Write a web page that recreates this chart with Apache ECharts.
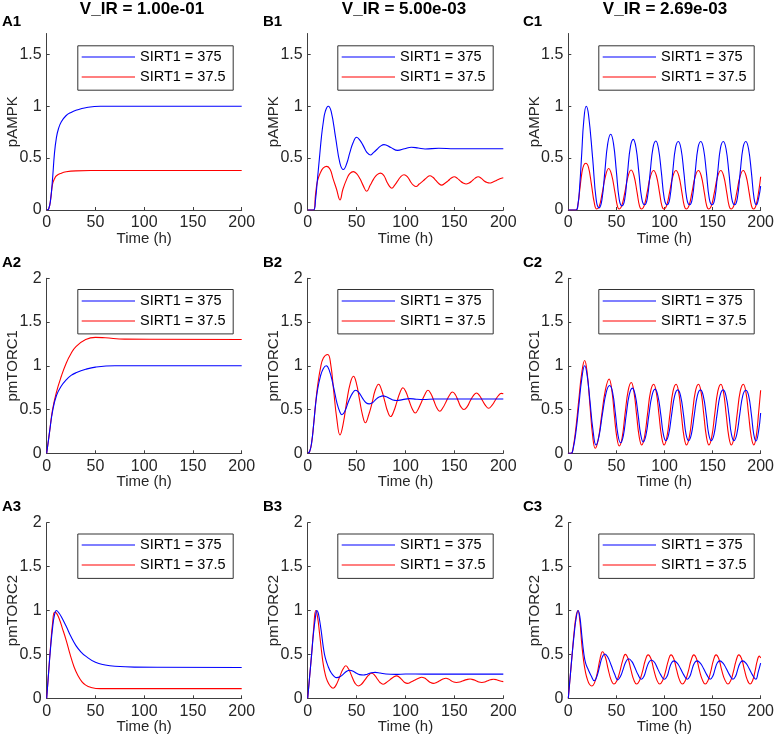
<!DOCTYPE html>
<html>
<head>
<meta charset="utf-8">
<script src="https://cdn.jsdelivr.net/npm/echarts@6/dist/echarts.min.js"></script>
<style>
html,body{margin:0;padding:0;background:#fff;}
#chart{width:777px;height:737px;}
</style>
</head>
<body>
<div id="chart"></div>
<script>
// ---------- data ----------
const columnTitles = ['V_IR = 1.00e-01', 'V_IR = 5.00e-03', 'V_IR = 2.69e-03'];
const panelLabels = [['A1','B1','C1'],['A2','B2','C2'],['A3','B3','C3']];
const rowYNames = ['pAMPK', 'pmTORC1', 'pmTORC2'];
const rowYMax = [1.7, 2, 2];
const seriesNames = ['SIRT1 = 375', 'SIRT1 = 37.5'];
const xTicks = [0, 50, 100, 150, 200];

// A1 pAMPK
const a1Blue = [[0,0],[2,0.01],[4,0.1],[6,0.3],[8,0.55],[10,0.7],[12,0.78],[15,0.85],[20,0.91],[25,0.94],[30,0.96],[40,0.985],[55,1.0],[200,1.0]];
const a1Red = [[0,0],[2,0.01],[4,0.1],[6,0.25],[8,0.3],[10,0.33],[15,0.355],[20,0.368],[30,0.377],[45,0.38],[200,0.38]];
// B1 pAMPK
const b1Blue = [[0,0],[6,0],[8,0.1],[10,0.3],[12,0.5],[14,0.7],[16,0.85],[18,0.95],[21,1.0],[24,0.95],[28.5,0.7],[33,0.45],[36.5,0.39],[40,0.45],[43,0.55],[46.5,0.65],[50,0.70],[53.5,0.67],[57,0.615],[60.5,0.555],[64,0.53],[67.5,0.555],[71,0.585],[74.5,0.615],[78,0.63],[85,0.602],[92,0.574],[99,0.59],[106,0.605],[113,0.597],[120,0.588],[134,0.595],[150,0.59],[200,0.59]];
const b1Red = [[0,0],[6,0],[8,0.15],[10,0.28],[13,0.36],[16,0.405],[19.5,0.42],[23,0.39],[26,0.3],[29.5,0.2],[33,0.097],[36,0.2],[40,0.3],[43,0.35],[46.7,0.37],[50,0.35],[53.5,0.3],[57,0.23],[60.3,0.18],[64,0.24],[67.5,0.3],[71,0.34],[74.6,0.355],[78,0.33],[81,0.27],[83.5,0.23],[86,0.21],[89,0.24],[92,0.28],[95,0.32],[98.5,0.34],[102,0.32],[105,0.275],[108,0.24],[110.8,0.226],[114,0.25],[118,0.28],[121.5,0.31],[125,0.33],[128,0.315],[131,0.285],[134,0.255],[137,0.24],[140,0.255],[143.5,0.28],[146.5,0.305],[150,0.32],[153,0.305],[156,0.28],[159,0.26],[162,0.25],[165,0.26],[168,0.28],[171,0.305],[174.4,0.32],[177.5,0.305],[180.5,0.28],[183.5,0.265],[186,0.26],[189.5,0.27],[193,0.285],[196.5,0.3],[200,0.31]];
// C1 pAMPK
const c1Blue = [[0,0],[8,0],[10,0.05],[12,0.25],[14,0.55],[16,0.85],[18.6,1.0],[21,0.92],[25.3,0.5],[29,0.1],[32,0.02],[35,0.1],[38,0.37],[41,0.64],[44.1,0.73],[47,0.64],[50,0.37],[53,0.1],[55.8,0.04],[58.6,0.1],[61.6,0.36],[64.6,0.61],[67.6,0.68],[70.4,0.6],[73.4,0.36],[76.4,0.11],[79.3,0.05],[82.1,0.11],[85.1,0.36],[88.1,0.6],[91,0.665],[93.8,0.59],[96.8,0.36],[99.8,0.11],[102.7,0.05],[105.5,0.11],[108.5,0.36],[111.5,0.6],[114.4,0.66],[117.2,0.59],[120.2,0.36],[123.2,0.11],[126.1,0.05],[128.9,0.11],[131.9,0.36],[134.9,0.6],[137.8,0.66],[140.6,0.59],[143.6,0.36],[146.6,0.11],[149.5,0.05],[152.3,0.11],[155.3,0.36],[158.3,0.6],[161.2,0.66],[164,0.59],[167,0.36],[170,0.11],[172.9,0.05],[175.7,0.11],[178.7,0.36],[181.7,0.6],[184.6,0.66],[187.4,0.59],[190.4,0.36],[193.2,0.11],[195.6,0.05],[198,0.12],[200,0.23]];
const c1Red = [[0,0],[8,0],[10,0.05],[12,0.2],[14,0.35],[16,0.43],[18.3,0.45],[21,0.41],[24,0.25],[27,0.07],[29.5,0.01],[32,0.03],[35,0.15],[38.5,0.32],[42,0.40],[45,0.34],[48.5,0.17],[51,0.04],[52.8,0.01],[55.5,0.04],[58.8,0.17],[62,0.32],[65.3,0.385],[68.3,0.33],[71.5,0.17],[74,0.04],[76.1,0.01],[78.8,0.04],[82,0.17],[85.3,0.32],[88.6,0.38],[91.6,0.33],[94.8,0.17],[97.3,0.04],[99.4,0.01],[102.1,0.04],[105.3,0.17],[108.6,0.32],[111.9,0.38],[114.9,0.33],[118.1,0.17],[120.6,0.04],[122.7,0.01],[125.4,0.04],[128.6,0.17],[131.9,0.32],[135.2,0.38],[138.2,0.33],[141.4,0.17],[143.9,0.04],[146,0.01],[148.7,0.04],[151.9,0.17],[155.2,0.32],[158.5,0.38],[161.5,0.33],[164.7,0.17],[167.2,0.04],[169.3,0.01],[172,0.04],[175.2,0.17],[178.5,0.32],[181.8,0.38],[184.8,0.33],[188,0.17],[190.5,0.04],[192.6,0.01],[195.3,0.05],[198.3,0.2],[200,0.32]];

// A2 pmTORC1
const a2Blue = [[0,0],[3,0.25],[6,0.48],[10,0.66],[15,0.77],[20,0.84],[25,0.89],[30,0.92],[40,0.96],[50,0.985],[70,1.0],[200,1.0]];
const a2Red = [[0,0],[3,0.25],[6,0.5],[10,0.7],[15,0.88],[20,1.03],[25,1.14],[30,1.22],[40,1.3],[50,1.325],[60,1.32],[80,1.305],[200,1.30]];
// B2 pmTORC1
const b2Blue = [[0,0],[2,0.02],[4,0.12],[6,0.32],[8,0.55],[10,0.72],[13,0.88],[16,0.97],[19,1.0],[22,0.95],[26,0.78],[30,0.57],[33,0.47],[35,0.44],[38,0.48],[42,0.6],[46,0.69],[49,0.72],[52,0.7],[56,0.63],[60,0.575],[63,0.565],[66.5,0.58],[70,0.62],[73.5,0.645],[77,0.656],[80.5,0.645],[84,0.625],[87,0.61],[90.6,0.603],[97,0.613],[104,0.625],[111,0.618],[118,0.615],[130,0.62],[200,0.62]];
const b2Red = [[0,0],[2,0.02],[4,0.12],[6,0.32],[8,0.56],[10,0.76],[13,0.97],[16,1.09],[20.5,1.13],[23.5,1.02],[26.5,0.72],[29.7,0.4],[33,0.21],[36.5,0.35],[40,0.6],[43.5,0.8],[46.8,0.88],[49.8,0.8],[52.9,0.62],[56,0.44],[59,0.35],[62.4,0.44],[65.7,0.57],[69,0.72],[72.5,0.79],[75.6,0.72],[78.7,0.6],[81.7,0.48],[84.8,0.42],[88,0.48],[91.1,0.585],[94.2,0.69],[97.4,0.75],[100.5,0.7],[103.7,0.6],[106.8,0.51],[110,0.46],[113.2,0.51],[116.5,0.59],[119.7,0.67],[123,0.72],[126,0.68],[129,0.6],[132,0.52],[135,0.48],[138.2,0.52],[141.5,0.59],[144.8,0.66],[148,0.70],[151,0.67],[153.8,0.6],[156.7,0.53],[159.7,0.5],[162.9,0.53],[166.2,0.6],[169.4,0.66],[172.6,0.69],[175.7,0.66],[178.8,0.6],[181.9,0.545],[185,0.515],[188.2,0.545],[191.5,0.6],[194.7,0.655],[198,0.685],[200,0.68]];
// C2 pmTORC1
const c2Blue = [[0,0],[3,0],[5,0.05],[8,0.25],[11,0.55],[14,0.85],[17,1.0],[19.5,0.9],[22.5,0.6],[25.5,0.28],[28.8,0.095],[32,0.2],[35.5,0.45],[39.5,0.7],[43,0.775],[46,0.7],[49,0.45],[51.5,0.22],[54.3,0.12],[57.2,0.2],[60.2,0.44],[63.4,0.67],[66.6,0.745],[69.5,0.67],[72.6,0.44],[75.2,0.22],[77.9,0.13],[80.8,0.21],[83.8,0.44],[87,0.66],[90.2,0.733],[93.1,0.66],[96.2,0.44],[98.8,0.22],[101.5,0.145],[104.4,0.22],[107.4,0.44],[110.6,0.66],[113.8,0.725],[116.7,0.66],[119.8,0.44],[122.4,0.22],[125.1,0.145],[128,0.22],[131,0.44],[134.2,0.66],[137.4,0.725],[140.3,0.66],[143.4,0.44],[146,0.22],[148.7,0.145],[151.6,0.22],[154.6,0.44],[157.8,0.66],[161,0.725],[163.9,0.66],[167,0.44],[169.6,0.22],[172.3,0.145],[175.2,0.22],[178.2,0.44],[181.4,0.66],[184.6,0.72],[187.5,0.66],[190.4,0.44],[192.8,0.22],[195.2,0.14],[197.8,0.25],[200,0.46]];
const c2Red = [[0,0],[3,0],[5,0.06],[8,0.3],[11,0.62],[14,0.92],[17,1.06],[19.5,0.93],[22.5,0.55],[25.3,0.2],[28,0.057],[31,0.15],[34.5,0.42],[38.5,0.72],[42.4,0.85],[45.3,0.72],[48,0.42],[50.5,0.18],[53,0.084],[56,0.18],[59,0.45],[62.3,0.72],[65.5,0.81],[68.3,0.7],[71,0.44],[73.7,0.19],[76.4,0.095],[79.3,0.19],[82.4,0.45],[85.6,0.71],[88.8,0.79],[91.6,0.69],[94.3,0.44],[97,0.19],[99.7,0.095],[102.6,0.19],[105.7,0.45],[108.9,0.71],[112.1,0.79],[114.9,0.69],[117.6,0.44],[120.3,0.19],[123,0.095],[125.9,0.19],[129,0.45],[132.2,0.71],[135.4,0.79],[138.2,0.69],[140.9,0.44],[143.6,0.19],[146.3,0.095],[149.2,0.19],[152.3,0.45],[155.5,0.71],[158.7,0.79],[161.5,0.69],[164.2,0.44],[166.9,0.19],[169.6,0.095],[172.5,0.19],[175.6,0.45],[178.8,0.71],[182,0.79],[184.8,0.69],[187.5,0.44],[190.2,0.19],[192.9,0.095],[195.5,0.2],[198,0.48],[200,0.72]];

// A3 pmTORC2
const a3Blue = [[0,0],[2,0.3],[4,0.58],[6,0.8],[8,0.95],[10,1.0],[12,0.98],[15,0.93],[20,0.82],[25,0.7],[30,0.6],[35,0.53],[40,0.48],[50,0.41],[60,0.38],[70,0.365],[90,0.355],[200,0.35]];
const a3Red = [[0,0],[2,0.3],[4,0.6],[6,0.85],[8,0.98],[10,0.97],[13,0.9],[16,0.8],[20,0.66],[24,0.5],[28,0.36],[32,0.26],[36,0.19],[40,0.15],[45,0.125],[55,0.11],[200,0.11]];
// B3 pmTORC2
const b3Blue = [[0,0],[2,0.25],[4,0.5],[6,0.75],[8,0.93],[9.2,1.0],[10.5,0.98],[12,0.9],[14,0.75],[16,0.58],[18,0.46],[21,0.36],[24,0.29],[27,0.25],[29.6,0.235],[33,0.245],[36,0.27],[39.5,0.305],[43,0.32],[47,0.305],[50,0.285],[53,0.27],[57,0.265],[61,0.275],[65,0.29],[69,0.295],[74,0.288],[80,0.277],[90,0.272],[100,0.277],[120,0.275],[200,0.275]];
const b3Red = [[0,0],[2,0.25],[4,0.5],[6,0.78],[8.2,1.0],[10,0.93],[12,0.75],[14,0.55],[16,0.38],[18,0.27],[20,0.2],[23,0.14],[26,0.114],[29,0.15],[32.5,0.24],[36,0.33],[39,0.37],[42,0.33],[45.5,0.24],[48.5,0.17],[51.8,0.14],[55,0.16],[58.5,0.21],[62,0.26],[65.4,0.285],[68.3,0.265],[71.2,0.22],[74,0.18],[77,0.16],[80.5,0.18],[84,0.21],[87.5,0.24],[91,0.255],[93.7,0.24],[96.5,0.21],[99.2,0.18],[102,0.17],[105.6,0.185],[109.2,0.205],[112.8,0.225],[116.5,0.24],[119.5,0.23],[122.5,0.205],[125.5,0.18],[128.5,0.17],[131.7,0.18],[135,0.2],[138.2,0.22],[141.4,0.228],[144,0.22],[146.7,0.2],[149.3,0.185],[152,0.18],[155.5,0.185],[159,0.2],[162.5,0.213],[166,0.22],[169,0.213],[172,0.2],[175,0.185],[178,0.18],[181,0.185],[184,0.2],[187,0.212],[190,0.217],[193,0.212],[196,0.2],[200,0.19]];
// C3 pmTORC2
const c3Blue = [[0,0],[2,0.25],[4,0.5],[6,0.72],[8,0.9],[10.2,1.0],[12,0.93],[14,0.72],[16,0.52],[18,0.4],[21,0.32],[24,0.25],[27,0.2],[30,0.26],[32.5,0.36],[35,0.46],[38,0.505],[41,0.47],[44.5,0.38],[48,0.28],[51.5,0.21],[54.3,0.25],[57,0.33],[60,0.42],[62.7,0.45],[66,0.42],[69.2,0.35],[72.5,0.27],[76,0.217],[78.7,0.25],[81,0.33],[83.8,0.41],[86.4,0.437],[89.6,0.41],[92.8,0.34],[96,0.27],[100,0.217],[102.7,0.25],[104.9,0.33],[107.4,0.405],[110,0.426],[113.3,0.4],[116.6,0.34],[119.9,0.27],[123.7,0.217],[126.4,0.25],[128.7,0.33],[131.3,0.405],[134,0.426],[137.3,0.4],[140.6,0.34],[143.9,0.27],[147.5,0.217],[150.2,0.25],[152.5,0.33],[155,0.405],[157.6,0.426],[160.9,0.4],[164.2,0.34],[167.5,0.27],[171.2,0.217],[173.9,0.25],[176.2,0.33],[178.8,0.405],[181.4,0.426],[184.7,0.4],[188,0.34],[191.3,0.27],[195,0.217],[197.5,0.3],[200,0.4]];
const c3Red = [[0,0],[2,0.25],[4,0.5],[6,0.75],[8,0.93],[10,1.0],[12,0.88],[14,0.62],[16,0.42],[18,0.29],[20,0.21],[22,0.16],[24.4,0.14],[27,0.17],[30,0.28],[33,0.45],[35.6,0.53],[38.5,0.47],[41.5,0.33],[44.5,0.21],[47.5,0.163],[50.5,0.2],[53.5,0.3],[56.5,0.43],[59.3,0.5],[62.2,0.45],[65.2,0.32],[68.1,0.21],[71,0.163],[74,0.2],[77,0.3],[80,0.43],[83,0.495],[86,0.45],[89,0.32],[92,0.21],[95,0.163],[98,0.2],[101,0.3],[104,0.43],[106.8,0.495],[109.7,0.45],[112.7,0.32],[115.6,0.21],[118.6,0.163],[121.6,0.2],[124.6,0.3],[127.6,0.43],[130.5,0.495],[133.3,0.45],[136.3,0.32],[139.4,0.21],[142.4,0.163],[145.2,0.2],[148,0.3],[150.8,0.43],[153.6,0.495],[156.5,0.45],[159.5,0.32],[162.8,0.21],[166,0.163],[168.8,0.2],[171.6,0.3],[174.5,0.43],[177.3,0.495],[180.2,0.45],[183.2,0.32],[186.1,0.21],[189,0.163],[191.6,0.2],[194,0.3],[196.5,0.43],[198.6,0.48],[200,0.46]];

const panelData = [
  [[a1Blue, a1Red], [b1Blue, b1Red], [c1Blue, c1Red]],
  [[a2Blue, a2Red], [b2Blue, b2Red], [c2Blue, c2Red]],
  [[a3Blue, a3Red], [b3Blue, b3Red], [c3Blue, c3Red]]
];

// ---------- layout / style ----------
const FONT = '"Liberation Sans", Arial, Helvetica, sans-serif';
const colLeft = [46.7, 307.7, 568.3];
const colWidth = [195, 195.6, 196.7];
const rowTop = [33.5, 278.3, 522.7];
const rowHeight = [176.5, 175, 175.6];
const legLeft = [77.3, 337.3, 598.3];
const legTop = [45.3, 289, 533.5];
// vertical centres of the two legend entries in each row (odd pixel rows so the
// 1px sample line straddles two rows of the same colour block)
const legEntryY = [[57, 77], [301, 321], [545, 565]];
const legW = 155.4, legH = 44.4;
const colTitleX = [142, 404, 665];
const labelX = [2, 263, 523];
const labelY = [23, 264, 508];
const lineColors = ['#0000ff', '#ff0000'];
const axisColor = '#404040';
const textColor = '#262626';

const grids = [], xAxes = [], yAxes = [], series = [], graphics = [];
for (let r = 0; r < 3; r++) {
  for (let c = 0; c < 3; c++) {
    const idx = r * 3 + c;
    grids.push({left: colLeft[c], top: rowTop[r], width: colWidth[c], height: rowHeight[r], containLabel: false});
    xAxes.push({
      type: 'value', gridIndex: idx, min: xTicks[0], max: xTicks[xTicks.length - 1], interval: xTicks[1] - xTicks[0],
      name: 'Time (h)', nameLocation: 'middle', nameGap: 21, nameMoveOverlap: false,
      nameTextStyle: {fontSize: 15, color: textColor, fontFamily: FONT},
      axisLine: {show: true, lineStyle: {color: axisColor, width: 1}},
      axisTick: {show: true, inside: true, length: 3, lineStyle: {color: axisColor}},
      axisLabel: {fontSize: 16, color: textColor, fontFamily: FONT, margin: 5},
      splitLine: {show: false}
    });
    yAxes.push({
      type: 'value', gridIndex: idx, min: 0, max: rowYMax[r], interval: 0.5,
      name: rowYNames[r], nameLocation: 'middle', nameGap: 26, nameRotate: 90, nameMoveOverlap: false,
      nameTextStyle: {fontSize: 15, color: textColor, fontFamily: FONT},
      axisLine: {show: true, lineStyle: {color: axisColor, width: 1}},
      axisTick: {show: true, inside: true, length: 3, lineStyle: {color: axisColor}},
      axisLabel: {fontSize: 16, color: textColor, fontFamily: FONT, margin: 5, showMaxLabel: r === 0 ? false : true},
      splitLine: {show: false}
    });
    for (let s = 0; s < 2; s++) {
      series.push({
        type: 'line', name: seriesNames[s], xAxisIndex: idx, yAxisIndex: idx,
        data: panelData[r][c][s], symbol: 'none', showSymbol: false, smooth: 0.45,
        color: lineColors[s], lineStyle: {color: lineColors[s], width: 1.1},
        z: s === 0 ? 3 : 2, silent: true
      });
    }
    // legend box (frame, sample lines, entry texts)
    const L = legLeft[c], T = legTop[r];
    graphics.push({
      type: 'rect', left: L, top: T, z: 10,
      shape: {x: 0, y: 0, width: legW, height: legH},
      style: {fill: '#fff', stroke: '#333', lineWidth: 1}
    });
    for (let s = 0; s < 2; s++) {
      const yMid = legEntryY[r][s];
      graphics.push({
        type: 'line', z: 11,
        shape: {x1: L + 4.4, y1: yMid, x2: L + 57.7, y2: yMid},
        style: {stroke: lineColors[s], lineWidth: 1.2}
      });
      graphics.push({
        type: 'text', x: L + 62.7, y: yMid, z: 11,
        style: {text: seriesNames[s], font: '14.5px ' + FONT, fill: '#000', textAlign: 'left', textVerticalAlign: 'middle'}
      });
    }
    graphics.push({
      type: 'text', left: labelX[c], top: labelY[r] - 9,
      style: {text: panelLabels[r][c], font: 'bold 15px ' + FONT, fill: '#000'}
    });
  }
}
for (let c = 0; c < 3; c++) {
  graphics.push({
    type: 'text', x: colTitleX[c], y: 9,
    style: {text: columnTitles[c], font: 'bold 17px ' + FONT, fill: '#000', textAlign: 'center', textVerticalAlign: 'middle'}
  });
}

const chart = echarts.init(document.getElementById('chart'), null, {renderer: 'canvas'});
chart.setOption({
  animation: false,
  backgroundColor: '#fff',
  grid: grids, xAxis: xAxes, yAxis: yAxes, series: series, graphic: graphics
});
</script>
</body>
</html>
